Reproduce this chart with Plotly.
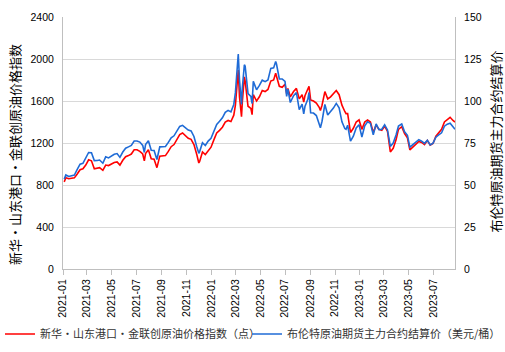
import plotly.graph_objects as go

dates = [
    "2021-01-04","2021-01-08","2021-01-15","2021-01-22","2021-01-29","2021-02-05","2021-02-12","2021-02-19","2021-02-26",
    "2021-03-05","2021-03-12","2021-03-19","2021-03-26","2021-04-01","2021-04-09","2021-04-16","2021-04-23","2021-04-30",
    "2021-05-07","2021-05-14","2021-05-21","2021-05-28","2021-06-04","2021-06-11","2021-06-18","2021-06-25",
    "2021-07-02","2021-07-09","2021-07-16","2021-07-20","2021-07-23","2021-07-30","2021-08-06","2021-08-13","2021-08-20","2021-08-27",
    "2021-09-03","2021-09-10","2021-09-17","2021-09-24","2021-10-01","2021-10-08","2021-10-15","2021-10-22","2021-10-29",
    "2021-11-05","2021-11-12","2021-11-19","2021-11-26","2021-12-01","2021-12-03","2021-12-10","2021-12-17","2021-12-24","2021-12-31",
    "2022-01-07","2022-01-14","2022-01-21","2022-01-28","2022-02-04","2022-02-11","2022-02-18","2022-02-25",
    "2022-03-01","2022-03-04","2022-03-08","2022-03-11","2022-03-16","2022-03-18","2022-03-23","2022-03-25",
    "2022-04-01","2022-04-08","2022-04-11","2022-04-14","2022-04-22","2022-04-29","2022-05-06","2022-05-13","2022-05-20","2022-05-27",
    "2022-06-03","2022-06-08","2022-06-10","2022-06-17","2022-06-24","2022-07-01","2022-07-05","2022-07-08","2022-07-14","2022-07-22","2022-07-29",
    "2022-08-05","2022-08-12","2022-08-16","2022-08-19","2022-08-26","2022-08-29","2022-09-02","2022-09-09","2022-09-16","2022-09-23","2022-09-26","2022-09-30",
    "2022-10-07","2022-10-14","2022-10-21","2022-10-28","2022-11-04","2022-11-11","2022-11-18","2022-11-25","2022-11-28",
    "2022-12-02","2022-12-09","2022-12-16","2022-12-23","2022-12-30",
    "2023-01-06","2023-01-13","2023-01-20","2023-01-27","2023-02-03","2023-02-10","2023-02-17","2023-02-24",
    "2023-03-03","2023-03-10","2023-03-17","2023-03-24","2023-03-31","2023-04-06","2023-04-14","2023-04-21","2023-04-28",
    "2023-05-04","2023-05-12","2023-05-19","2023-05-26","2023-06-02","2023-06-09","2023-06-16","2023-06-23","2023-06-30",
    "2023-07-07","2023-07-14","2023-07-21","2023-07-28","2023-08-04","2023-08-11","2023-08-18","2023-08-23",
]

index_points = [
    830,870,860,862,868,905,945,955,990,
    1040,1030,955,960,965,940,990,985,1000,
    1015,1020,990,1035,1070,1080,1095,1135,
    1135,1120,1095,1030,1100,1135,1050,1045,965,1075,
    1075,1080,1120,1165,1185,1240,1280,1295,1270,
    1245,1235,1185,1090,1010,1025,1115,1090,1130,1160,
    1230,1295,1320,1350,1400,1415,1405,1465,
    1560,1720,1895,1640,1450,1590,1830,1790,
    1550,1530,1470,1660,1600,1640,1700,1690,1710,1790,
    1800,1865,1840,1740,1730,1760,1670,1720,1640,1690,1720,
    1620,1660,1590,1650,1710,1740,1610,1600,1580,1540,1510,1560,
    1690,1620,1640,1670,1700,1660,1560,1500,1480,
    1480,1300,1340,1400,1420,
    1330,1400,1420,1400,1300,1370,1330,1320,
    1360,1310,1115,1150,1230,1330,1355,1290,1250,
    1135,1170,1190,1215,1205,1185,1225,1180,1195,
    1265,1300,1330,1400,1425,1445,1415,1400,
]

brent_usd = [
    53.5,55.99,55.10,55.41,55.88,59.34,62.43,62.91,66.13,
    69.36,69.22,64.53,64.57,64.86,62.95,66.77,66.11,67.25,
    68.28,68.71,66.44,69.63,71.89,72.69,73.51,76.18,
    76.17,75.55,73.59,69.35,74.10,76.33,70.70,70.59,65.18,72.70,
    72.61,72.92,75.34,78.09,79.28,82.39,84.86,85.53,84.38,
    82.74,82.17,78.89,72.72,68.87,69.88,75.15,73.52,76.14,77.78,
    81.75,86.06,87.89,90.03,93.27,94.44,93.54,97.93,
    104.97,118.11,127.98,112.67,98.02,107.93,121.60,120.65,
    104.39,102.78,98.48,111.70,106.65,109.34,112.39,111.55,112.55,119.43,
    119.72,123.58,122.01,113.12,113.12,111.63,102.77,107.02,99.10,103.20,105.0,
    94.92,98.15,92.34,96.72,100.99,105.09,93.02,92.84,91.35,86.15,84.06,87.96,
    97.92,91.63,93.50,95.77,98.57,95.99,87.62,83.63,83.19,
    85.57,76.10,79.04,83.92,85.91,
    78.57,85.28,87.63,86.66,79.94,86.39,83.00,83.16,
    85.83,82.78,72.97,74.99,79.77,85.12,86.31,81.66,79.54,
    72.50,74.17,75.58,76.95,76.13,74.79,76.61,73.85,74.90,
    78.47,79.87,81.07,84.99,86.24,86.81,84.80,83.21,
]

name_index = "新华・山东港口・金联创原油价格指数（点）"
name_brent = "布伦特原油期货主力合约结算价（美元/桶）"
title_left = "新华・山东港口・金联创原油价格指数"
title_right = "布伦特原油期货主力合约结算价"

W, H = 505, 352
FONT = "Liberation Sans, Noto Sans CJK SC, sans-serif"
CJK = "Noto Sans CJK SC, sans-serif"
AXIS_GRAY = "#bfbfbf"
GRID = "#d9d9d9"

fig = go.Figure()
fig.add_trace(go.Scatter(x=dates, y=index_points, name=name_index, mode="lines",
                         line=dict(color="#ff0000", width=1.6), yaxis="y", legend="legend"))
fig.add_trace(go.Scatter(x=dates, y=brent_usd, name=name_brent, mode="lines",
                         line=dict(color="#1f6bd6", width=1.6), yaxis="y2", legend="legend2"))

legend_common = dict(orientation="h", xref="container", yref="container",
                     xanchor="left", yanchor="middle", y=1 - 334 / H,
                     font=dict(family=CJK, size=11, color="#333333"),
                     itemwidth=30, bgcolor="rgba(0,0,0,0)", borderwidth=0)

fig.update_layout(
    width=W, height=H,
    margin=dict(l=63, r=50, t=17, b=83, autoexpand=False),
    paper_bgcolor="white", plot_bgcolor="white",
    font=dict(family=FONT, size=10.5, color="#000000"),
    showlegend=True,
    legend=dict(x=-4 / W, **legend_common),
    legend2=dict(x=247 / W, **legend_common),
    xaxis=dict(type="date", range=["2021-01-01", "2023-08-23"],
               tick0="2021-01-01", dtick="M2", tickformat="%Y-%m", tickangle=-90,
               ticks="outside", ticklen=5, tickcolor=AXIS_GRAY,
               showline=True, linecolor=AXIS_GRAY, linewidth=1,
               showgrid=False, zeroline=False, automargin=False,
               tickfont=dict(family=FONT, size=10.5, color="#000000")),
    yaxis=dict(range=[0, 2400], dtick=400, showgrid=True, gridcolor=GRID, gridwidth=1,
               showline=True, linecolor=AXIS_GRAY, linewidth=1, zeroline=False, ticks="",
               ticklabelstandoff=6, automargin=False,
               tickfont=dict(family=FONT, size=10.5, color="#000000")),
    yaxis2=dict(range=[0, 150], dtick=25, overlaying="y", side="right", showgrid=False,
                showline=True, linecolor=AXIS_GRAY, linewidth=1, zeroline=False, ticks="",
                ticklabelstandoff=6, automargin=False,
                tickfont=dict(family=FONT, size=10.5, color="#000000")),
    annotations=[
        dict(text=title_left, xref="paper", yref="paper",
             x=(14 - 63) / 392, y=(269 - 155) / 252, xanchor="center", yanchor="middle",
             textangle=-90, showarrow=False, font=dict(family=CJK, size=13, color="#000000")),
        dict(text=title_right, xref="paper", yref="paper",
             x=(495 - 63) / 392, y=(269 - 141.5) / 252, xanchor="center", yanchor="middle",
             textangle=-90, showarrow=False, font=dict(family=CJK, size=13, color="#000000")),
    ],
)

fig.write_html("out.html")
